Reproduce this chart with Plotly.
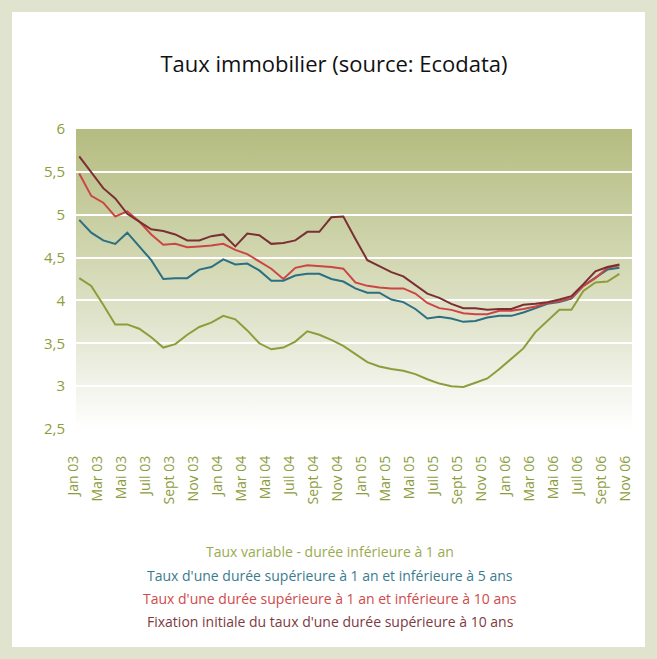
import base64
import plotly.graph_objects as go

# ---------------- data ----------------
tick_labels = ["Jan 03", "Mar 03", "Mai 03", "Juil 03", "Sept 03", "Nov 03",
               "Jan 04", "Mar 04", "Mai 04", "Juil 04", "Sept 04", "Nov 04",
               "Jan 05", "Mar 05", "Mai 05", "Juil 05", "Sept 05", "Nov 05",
               "Jan 06", "Mar 06", "Mai 06", "Juil 06", "Sept 06", "Nov 06"]

series_names = [
    "Taux variable - durée inférieure à 1 an",
    "Taux d'une durée supérieure à 1 an et inférieure à 5 ans",
    "Taux d'une durée supérieure à 1 an et inférieure à 10 ans",
    "Fixation initiale du taux d'une durée supérieure à 10 ans",
]

taux_variable = [4.26, 4.17, 3.95, 3.72, 3.72, 3.67, 3.57, 3.45, 3.49, 3.60, 3.69, 3.74,
                 3.82, 3.78, 3.65, 3.50, 3.43, 3.45, 3.52, 3.64, 3.60, 3.54, 3.47, 3.37,
                 3.28, 3.23, 3.20, 3.18, 3.14, 3.08, 3.03, 3.00, 2.99, 3.04, 3.09, 3.20,
                 3.32, 3.44, 3.63, 3.76, 3.89, 3.89, 4.11, 4.21, 4.22, 4.31]
taux_1_5 = [4.94, 4.79, 4.70, 4.66, 4.79, 4.63, 4.47, 4.25, 4.26, 4.26, 4.36, 4.39,
            4.48, 4.42, 4.43, 4.35, 4.23, 4.23, 4.29, 4.31, 4.31, 4.25, 4.22, 4.14,
            4.09, 4.09, 4.01, 3.98, 3.90, 3.79, 3.81, 3.79, 3.75, 3.76, 3.80, 3.82,
            3.82, 3.86, 3.91, 3.96, 3.98, 4.02, 4.17, 4.27, 4.36, 4.38]
taux_1_10 = [5.48, 5.22, 5.14, 4.98, 5.04, 4.92, 4.77, 4.65, 4.66, 4.62, 4.63, 4.64,
             4.66, 4.59, 4.54, 4.46, 4.37, 4.25, 4.38, 4.41, 4.40, 4.39, 4.37, 4.21,
             4.17, 4.15, 4.14, 4.14, 4.08, 3.97, 3.91, 3.89, 3.85, 3.84, 3.84, 3.88,
             3.88, 3.90, 3.93, 3.97, 3.99, 4.03, 4.17, 4.26, 4.38, 4.41]
taux_fixe_10 = [5.68, 5.50, 5.31, 5.19, 5.01, 4.92, 4.83, 4.81, 4.77, 4.70, 4.70, 4.75,
                4.77, 4.63, 4.78, 4.76, 4.66, 4.67, 4.70, 4.80, 4.80, 4.97, 4.98, 4.72,
                4.47, 4.40, 4.33, 4.28, 4.18, 4.08, 4.03, 3.96, 3.91, 3.91, 3.89, 3.90,
                3.90, 3.95, 3.96, 3.98, 4.01, 4.05, 4.19, 4.34, 4.39, 4.42]

all_series = [taux_variable, taux_1_5, taux_1_10, taux_fixe_10]
line_colors = ["#8c9d3b", "#2b6f82", "#cc4545", "#7a2f33"]
text_colors = ["#9aab4e", "#3a7b8e", "#cf4b4b", "#7e3a3f"]

# ---------------- layout geometry ----------------
W, H = 657, 659
L, R, T, B = 76, 25, 129, 230
PW, PH = W - L - R, H - T - B

x_idx = list(range(len(taux_variable)))
tick_vals = list(range(0, 2 * len(tick_labels), 2))

fig = go.Figure()
for name, vals, col in zip(series_names, all_series, line_colors):
    fig.add_trace(go.Scatter(x=x_idx, y=vals, mode="lines", name=name,
                             line=dict(color=col, width=2), showlegend=False))

# background: frame, white panel, gradient plot area
svg = f'''<svg xmlns="http://www.w3.org/2000/svg" width="{W}" height="{H}" viewBox="0 0 {W} {H}" preserveAspectRatio="none">
<defs><linearGradient id="g" x1="0" y1="0" x2="0" y2="1">
<stop offset="0" stop-color="#b4bc80"/>
<stop offset="0.45" stop-color="#d3d8b3"/>
<stop offset="0.75" stop-color="#e9ebdb"/>
<stop offset="1" stop-color="#ffffff"/>
</linearGradient></defs>
<rect x="0" y="0" width="{W}" height="{H}" fill="#e0e3cd"/>
<rect x="12" y="12" width="{W-24}" height="{H-24}" fill="#ffffff"/>
<rect x="{L}" y="{T}" width="{PW}" height="{PH}" fill="url(#g)"/>
</svg>'''
src = "data:image/svg+xml;base64," + base64.b64encode(svg.encode()).decode()
fig.add_layout_image(dict(source=src, xref="paper", yref="paper",
                          x=-L / PW, y=1 + T / PH, sizex=W / PW, sizey=H / PH,
                          xanchor="left", yanchor="top", sizing="stretch", layer="below"))

# legend as coloured text lines
legend_y_px = [551, 575, 598, 621]
for name, col, ypx in zip(series_names, text_colors, legend_y_px):
    fig.add_annotation(text=name, xref="paper", yref="paper", x=(330 - L) / PW,
                       y=(T + PH - ypx) / PH, xanchor="center", yanchor="middle",
                       showarrow=False, font=dict(size=14, color=col, family="Open Sans"))

fig.update_layout(
    width=W, height=H,
    margin=dict(l=L, r=R, t=T, b=B, pad=0),
    paper_bgcolor="#e0e3cd",
    plot_bgcolor="rgba(0,0,0,0)",
    separators=", ",
    font=dict(family="Open Sans", color="#8c9d3b"),
    title=dict(text="Taux immobilier (source: Ecodata)", x=(334) / W, xanchor="center",
               y=1 - 64 / H, yanchor="middle", font=dict(size=22, color="#111111", family="Open Sans")),
    xaxis=dict(range=[-0.27, 46.05], tickvals=tick_vals, ticktext=tick_labels, tickangle=-90,
               showgrid=False, zeroline=False, showline=False, ticks="",
               ticklabelstandoff=23, ticklabelshift=-6, tickfont=dict(size=14, color="#8c9d3b")),
    yaxis=dict(range=[2.5, 6], dtick=0.5, tick0=2.5, tickformat=".1~f",
               showgrid=True, gridcolor="#ffffff", gridwidth=2, zeroline=False, showline=False,
               ticks="", ticklabelstandoff=10, tickfont=dict(size=15, color="#8c9d3b")),
)

fig.write_html("out.html", config={"displayModeBar": False},
               post_script="document.body.style.margin='0';")
